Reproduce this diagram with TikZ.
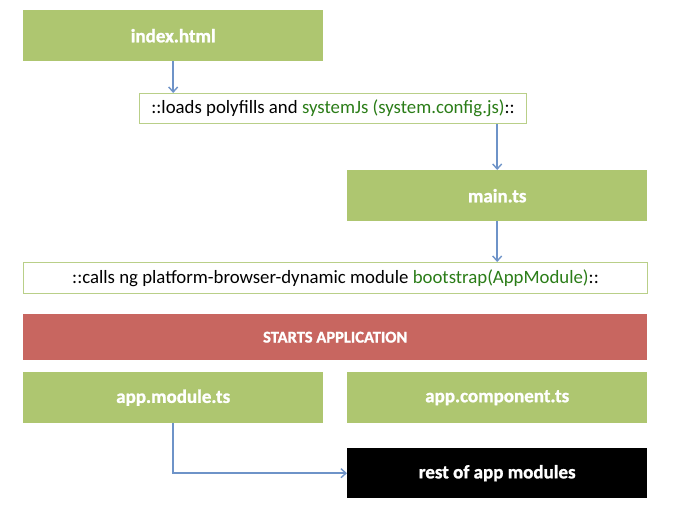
\documentclass[tikz,border=0pt]{standalone}
\usepackage{fontspec}
\setmainfont{Carlito}
\newfontfamily\whitelab[FakeBold=1.2]{Carlito}
\usetikzlibrary{arrows.meta}
\definecolor{boxgreen}{HTML}{AEC670}
\definecolor{edgegreen}{HTML}{B9CF88}
\definecolor{txtgreen}{HTML}{2B7D18}
\definecolor{startred}{HTML}{C86660}
\definecolor{arrowblue}{HTML}{6E93C8}
\begin{document}
\begin{tikzpicture}[x=1pt,y=-1pt,
  gbox/.style={fill=boxgreen, draw=none, text=white, font=\whitelab\bfseries\fontsize{19}{22}\selectfont, anchor=north west, inner sep=0pt},
  wbox/.style={fill=white, draw=edgegreen, line width=1pt, text=black, font=\fontsize{18.8}{22}\selectfont, anchor=north west, inner sep=0pt},
  link/.style={draw=arrowblue, line width=1.6pt, -{Straight Barb[length=5pt,width=9pt,line width=1.4pt]}}]
\useasboundingbox (0,0) rectangle (680,515);
\node[gbox, minimum width=300pt, minimum height=51pt] (index) at (23,10) {index.html};
\node[wbox, minimum width=387pt, minimum height=30pt] (loads) at (139,93) {::loads polyfills and \textcolor{txtgreen}{systemJs (system.config.js)}::};
\node[gbox, minimum width=300pt, minimum height=51pt] (main) at (347,170) {main.ts};
\node[wbox, minimum width=624pt, minimum height=31pt] (calls) at (23,262) {::calls ng platform-browser-dynamic module \textcolor{txtgreen}{bootstrap(AppModule)}::};
\node[fill=startred, text=white, font=\whitelab\bfseries\fontsize{16.5}{19}\selectfont, anchor=north west, inner sep=0pt, minimum width=624pt, minimum height=46pt] (starts) at (23,314) {STARTS APPLICATION};
\node[gbox, minimum width=300pt, minimum height=51pt] (appmod) at (23,372) {app.module.ts};
\node[gbox, minimum width=300pt, minimum height=51pt] (appcomp) at (347,372) {app.component.ts};
\node[fill=black, text=white, font=\whitelab\bfseries\fontsize{19}{22}\selectfont, anchor=north west, inner sep=0pt, minimum width=300pt, minimum height=50pt] (rest) at (347,448) {rest of app modules};
\draw[link] (index.south) -- (index.south |- loads.north);
\draw[link] (main.north |- loads.south) -- (main.north);
\draw[link] (main.south) -- (main.south |- calls.north);
\draw[link] (appmod.south) |- (rest.west);
\end{tikzpicture}
\end{document}
